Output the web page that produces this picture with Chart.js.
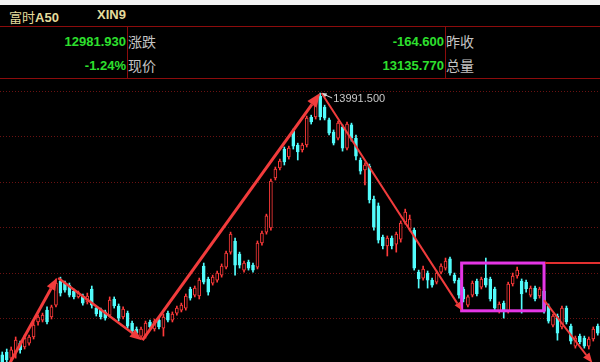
<!DOCTYPE html>
<html>
<head>
<meta charset="utf-8">
<script src="https://cdn.jsdelivr.net/npm/chart.js"></script>
<style>
  body { margin: 0; background: #000; width: 600px; height: 362px; overflow: hidden; position: relative; }
  .t { position: absolute; white-space: nowrap; line-height: 16px; height: 16px; }
  .num { color: #2ee02e; font: bold 13px "Liberation Sans", Arial, sans-serif; text-align: right; }
  .lbl { color: #c4c4c4; font: 14px "Noto Sans CJK SC", sans-serif; }
  .ttl { color: #e4dc9c; font: bold 13px "Liberation Sans", "Noto Sans CJK SC", sans-serif; }
  .hl { position: absolute; left: 0; width: 600px; height: 1px; background: #8c0c0c; }
  .vl { position: absolute; top: 26px; width: 1px; height: 53px; background: #8c0c0c; }
  #wrap { position: absolute; left: 0; top: 79px; width: 600px; height: 283px; }
</style>
</head>
<body>
<div style="position:absolute;left:0;top:0;width:600px;height:5px;background:#f2f2f2"></div>
<div class="t ttl" style="left:9px;top:7px"><span style="font-family:'Noto Sans CJK SC';font-weight:normal">富时</span>A50</div>
<div class="t ttl" style="left:97px;top:7px">XIN9</div>
<div class="hl" style="top:26px"></div>
<div class="hl" style="top:78px"></div>
<div class="vl" style="left:127px"></div>
<div class="vl" style="left:445px"></div>
<div id="head"></div>
<div id="wrap"><canvas id="chart-kline"></canvas></div>
<script>
// header fields
var headValues = ["12981.930", "-1.24%", "-164.600", "13135.770"];
var headLabels = ["涨跌", "现价", "昨收", "总量"];

// daily candles, oldest first
var opens = [12840, 12853, 12826, 12853, 12892, 12875, 12892, 12919, 12985, 12993,
  13037, 13007, 13059, 13165, 13156, 13147, 13121, 13095, 13099, 13073,
  13130, 13046, 13037, 13029, 13015, 13086, 13055, 13007, 13024, 12980,
  12954, 12923, 12923, 12985, 12954, 12993, 12958, 13024, 12993, 13024,
  13037, 13046, 13130, 13103, 13099, 13231, 13174, 13156, 13169, 13191,
  13226, 13292, 13341, 13283, 13213, 13248, 13235, 13226, 13332, 13380,
  13398, 13618, 13662, 13745, 13710, 13824, 13763, 13741, 13763, 13886,
  13886, 13978, 13930, 13873, 13820, 13793, 13842, 13749, 13851, 13793,
  13697, 13653, 13670, 13525, 13495, 13358, 13319, 13354, 13327, 13349,
  13424, 13393, 13389, 13204, 13178, 13200, 13169, 13160, 13204, 13222,
  13262, 13191, 13169, 13130, 13059, 13103, 13165, 13138, 13178, 13174,
  13130, 13033, 13068, 13033, 13152, 13187, 13165, 13160, 13103, 13134,
  13099, 13121, 13055, 12971, 13011, 12963, 13046, 12967, 12879, 12923,
  12914, 12879, 12910, 12967];
var closes = [12809, 12818, 12862, 12905, 12862, 12914, 12919, 12971, 13007, 13015,
  12985, 13051, 13156, 13112, 13125, 13103, 13095, 13112, 13068, 13099,
  13059, 13020, 13007, 13002, 13081, 13055, 13002, 13042, 12967, 12945,
  12936, 12954, 12980, 12963, 12989, 12963, 13007, 12993, 13020, 13046,
  13059, 13099, 13090, 13134, 13169, 13160, 13116, 13182, 13200, 13231,
  13288, 13371, 13235, 13235, 13244, 13222, 13213, 13332, 13376, 13451,
  13604, 13657, 13692, 13688, 13749, 13758, 13732, 13763, 13881, 13864,
  13956, 13886, 13881, 13815, 13771, 13859, 13749, 13855, 13793, 13714,
  13648, 13675, 13521, 13402, 13345, 13319, 13354, 13319, 13371, 13420,
  13468, 13437, 13222, 13174, 13218, 13169, 13147, 13200, 13231, 13253,
  13200, 13165, 13103, 13086, 13095, 13156, 13108, 13174, 13147, 13086,
  13046, 13064, 13037, 13152, 13187, 13213, 13108, 13130, 13134, 13086,
  13130, 13033, 12989, 13011, 12936, 13046, 12985, 12901, 12914, 12897,
  12879, 12910, 12954, 12936];
var highs = [12853, 12866, 12875, 12919, 12901, 12927, 12927, 12985, 13015, 13024,
  13051, 13059, 13174, 13182, 13165, 13156, 13130, 13121, 13108, 13112,
  13143, 13055, 13046, 13037, 13095, 13095, 13064, 13051, 13033, 12989,
  12963, 12963, 12989, 12993, 12998, 13002, 13020, 13033, 13029, 13055,
  13068, 13108, 13138, 13143, 13178, 13244, 13182, 13191, 13209, 13240,
  13297, 13380, 13354, 13292, 13253, 13257, 13244, 13341, 13385, 13459,
  13613, 13666, 13701, 13754, 13758, 13833, 13771, 13771, 13890, 13894,
  13969, 13991.5, 13938, 13881, 13829, 13868, 13851, 13864, 13859, 13807,
  13706, 13684, 13679, 13538, 13508, 13367, 13363, 13363, 13380, 13429,
  13481, 13455, 13398, 13213, 13231, 13209, 13178, 13209, 13240, 13266,
  13270, 13200, 13178, 13138, 13103, 13165, 13174, 13182, 13266, 13182,
  13138, 13073, 13077, 13160, 13200, 13226, 13174, 13169, 13143, 13143,
  13138, 13134, 13064, 13020, 13020, 13055, 13055, 12976, 12923, 12932,
  12923, 12919, 12963, 12976];
var lows = [12796, 12800, 12809, 12826, 12848, 12866, 12883, 12910, 12971, 12985,
  12976, 12998, 13051, 13099, 13116, 13095, 13086, 13090, 13059, 13064,
  13046, 13011, 12998, 12993, 13007, 13046, 12989, 12998, 12958, 12936,
  12927, 12910, 12914, 12954, 12945, 12954, 12923, 12985, 12985, 13015,
  13029, 13037, 13081, 13095, 13086, 13152, 13103, 13147, 13160, 13182,
  13218, 13283, 13191, 13222, 13204, 13213, 13204, 13218, 13323, 13371,
  13389, 13609, 13653, 13675, 13701, 13745, 13697, 13732, 13754, 13855,
  13877, 13873, 13873, 13807, 13763, 13785, 13736, 13741, 13780, 13697,
  13635, 13587, 13508, 13389, 13332, 13306, 13275, 13306, 13292, 13336,
  13415, 13385, 13213, 13134, 13169, 13134, 13138, 13152, 13196, 13213,
  13191, 13156, 13090, 13073, 13051, 13095, 13099, 13130, 13138, 13077,
  13033, 13024, 13002, 13024, 13143, 13178, 13024, 13116, 13095, 13077,
  13090, 13024, 12980, 12963, 12905, 12954, 12976, 12888, 12870, 12888,
  12870, 12866, 12901, 12927];
var gridTicks = [13000, 13200, 13400, 13600, 13800, 14000];

// hand drawn trend arrows: [fromIndex, fromPrice, toIndex, toPrice, lineWidth, headSize]
var trendArrows = [
  [1.3, 12790, 12.2, 13178, 3, 12],
  [12.5, 13178, 31.2, 12905, 2.5, 12],
  [31.3, 12905, 71, 13991.5, 3, 14],
  [71.3, 13991.5, 102.6, 13037, 2, 8],
  [121, 13081, 131.8, 12805, 2, 10]
];
// consolidation box: [fromIndex, toIndex, topPrice, bottomPrice]
var rangeBox = [102.6, 121.0, 13244, 13034];
var peakIndex = 71;

var head = document.getElementById("head");
headValues.forEach(function (v, i) {
  var right = i < 2 ? 474 : 156;
  var top = i % 2 === 0 ? 34 : 58;
  head.insertAdjacentHTML("beforeend",
    '<div class="t num" style="right:' + right + 'px;top:' + top + 'px">' + v + '</div>' +
    '<div class="t lbl" style="left:' + (600 - right + 2) + 'px;top:' + (top - 3) + 'px">' + headLabels[i] + '</div>');
});

var RED = "#ff3a3a";
var CYAN = "#52fcfc";
var labels = opens.map(function (v, i) { return i + 1; });
var up = opens.map(function (o, i) { return closes[i] >= o; });

var drawMarks = {
  id: "drawMarks",
  afterDatasetsDraw: function (chart) {
    var ctx = chart.ctx;
    var x = chart.scales.x, y = chart.scales.y;
    ctx.save();
    // box and the line that runs on from its top edge
    var bx1 = x.getPixelForValue(rangeBox[0]), bx2 = x.getPixelForValue(rangeBox[1]);
    var by1 = y.getPixelForValue(rangeBox[2]), by2 = y.getPixelForValue(rangeBox[3]);
    ctx.strokeStyle = "#e636e6";
    ctx.lineWidth = 3;
    ctx.strokeRect(bx1, by1, bx2 - bx1, by2 - by1);
    ctx.strokeStyle = "#e23030";
    ctx.lineWidth = 2;
    ctx.beginPath();
    ctx.moveTo(bx2 + 1, by1);
    ctx.lineTo(chart.chartArea.right, by1);
    ctx.stroke();

    ctx.strokeStyle = "#f23c3c";
    ctx.fillStyle = "#f23c3c";
    trendArrows.forEach(function (a) {
      var x1 = x.getPixelForValue(a[0]), y1 = y.getPixelForValue(a[1]);
      var x2 = x.getPixelForValue(a[2]), y2 = y.getPixelForValue(a[3]);
      var ang = Math.atan2(y2 - y1, x2 - x1);
      var h = a[5];
      var hx = x2 - h * Math.cos(ang), hy = y2 - h * Math.sin(ang);
      ctx.lineWidth = a[4];
      ctx.beginPath();
      ctx.moveTo(x1, y1);
      ctx.lineTo(hx, hy);
      ctx.stroke();
      ctx.beginPath();
      ctx.moveTo(x2, y2);
      ctx.lineTo(hx + h * 0.4 * Math.sin(ang), hy - h * 0.4 * Math.cos(ang));
      ctx.lineTo(hx - h * 0.4 * Math.sin(ang), hy + h * 0.4 * Math.cos(ang));
      ctx.closePath();
      ctx.fill();
    });

    // peak price tag
    var px = x.getPixelForValue(peakIndex) + 1, py = y.getPixelForValue(highs[peakIndex]);
    ctx.strokeStyle = "#d8d8d8";
    ctx.fillStyle = "#d8d8d8";
    ctx.lineWidth = 1;
    ctx.beginPath();
    ctx.moveTo(px + 11, py + 5);
    ctx.lineTo(px + 2, py + 1);
    ctx.stroke();
    ctx.beginPath();
    ctx.moveTo(px + 1, py);
    ctx.lineTo(px + 6, py + 0.5);
    ctx.lineTo(px + 4, py + 4);
    ctx.closePath();
    ctx.fill();
    ctx.fillStyle = "#c8c8c8";
    ctx.font = '11px "Liberation Sans", Arial, sans-serif';
    ctx.textBaseline = "middle";
    ctx.fillText(highs[peakIndex].toFixed(3), px + 12, py + 6);
    ctx.restore();
  },
};

var ctx = document.getElementById("chart-kline").getContext("2d");

new Chart(ctx, {
  type: "bar",
  data: {
    labels: labels,
    datasets: [
      {
        label: "body",
        data: opens.map(function (o, i) { return [o, closes[i]]; }),
        backgroundColor: up.map(function (u) { return u ? "#000" : CYAN; }),
        borderColor: up.map(function (u) { return u ? RED : CYAN; }),
        borderWidth: 1,
        borderSkipped: false,
        barThickness: 3,
        grouped: false,
        order: 0,
      },
      {
        label: "wick",
        data: lows.map(function (l, i) { return [l, highs[i]]; }),
        backgroundColor: up.map(function (u) { return u ? RED : CYAN; }),
        borderWidth: 0,
        barThickness: 1,
        grouped: false,
        order: 1,
      },
    ],
  },
  options: {
    responsive: true,
    maintainAspectRatio: false,
    animation: false,
    layout: { padding: 0 },
    plugins: {
      legend: { display: false },
      tooltip: { enabled: false },
    },
    scales: {
      x: {
        display: false,
        offset: true,
        grid: { display: false },
      },
      y: {
        display: true,
        min: 12809,
        max: 14053,
        afterBuildTicks: function (axis) {
          axis.ticks = gridTicks.map(function (v) { return { value: v }; });
        },
        ticks: { display: false },
        grid: {
          color: "#6a1212",
          drawTicks: false,
          lineWidth: 1,
        },
        border: { display: false, dash: [1, 2] },
      },
    },
  },
  plugins: [drawMarks],
});
</script>
</body>
</html>
